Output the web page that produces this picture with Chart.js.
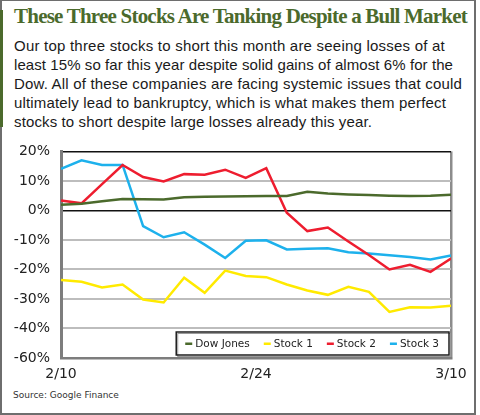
<!DOCTYPE html>
<html lang="en">
<head>
  <meta charset="UTF-8">
  <title>Stocks Tanking Despite a Bull Market</title>
  <script src="https://cdn.jsdelivr.net/npm/chart.js"></script>
  <style>
    body { margin:0; background:#fff; width:480px; height:415px; position:relative; overflow:hidden; }
    .frame { position:absolute; left:0; top:0; width:476px; height:415px; box-sizing:border-box; border:2px solid #6e6e6e; border-top-width:1px; }
    .accent { position:absolute; left:0; top:10px; width:3px; height:117px; background:#4b6a2c; }
    h1 { position:absolute; left:14px; top:6px; margin:0; font:bold 21px/21px "Liberation Serif", serif; color:#4b6a2c; white-space:nowrap; }
    .intro { position:absolute; left:14px; top:36px; margin:0; font:15px/19px "Liberation Sans", sans-serif; color:#1a1a1a; }
    .intro span { display:block; white-space:nowrap; width:max-content; }
    #chart { position:absolute; left:0; top:132px; }
    .source { position:absolute; left:13px; top:391px; font:9px/9px "DejaVu Sans", sans-serif; color:#333; }
  </style>
</head>
<body>
  <div class="frame"></div>
  <div class="accent"></div>
  <h1 id="title">These Three Stocks Are Tanking Despite a Bull Market</h1>
  <p class="intro" id="intro">
    <span>Our top three stocks to short this month are seeing losses of at</span>
    <span>least 15% so far this year despite solid gains of almost 6% for the</span>
    <span>Dow. All of these companies are facing systemic issues that could</span>
    <span>ultimately lead to bankruptcy, which is what makes them perfect</span>
    <span>stocks to short despite large losses already this year.</span>
  </p>
  <canvas id="chart" width="476" height="253"></canvas>
  <div class="source">Source: Google Finance</div>

  <script>
  // trading days shown on the chart
  const days = ['2/10','2/11','2/12','2/13','2/17','2/18','2/19','2/20','2/23','2/24',
                '2/25','2/26','2/27','3/2','3/3','3/4','3/5','3/6','3/9','3/10'];

  // % change
  const dowJones = [1.9, 2.3, 3.1, 3.9, 3.8, 3.7, 4.5, 4.6, 4.7, 4.8,
                    4.85, 4.9, 6.3, 5.7, 5.4, 5.2, 5.0, 4.9, 5.0, 5.3];
  const stock1 = [-23.6, -24.2, -26.1, -25.1, -30.2, -31.2, -22.8, -27.9, -20.4, -22.2,
                  -22.6, -25.1, -27.1, -28.6, -25.9, -27.6, -34.4, -32.8, -32.9, -32.3];
  const stock2 = [3.4, 2.4, 8.9, 15.4, 11.3, 9.8, 12.3, 12.1, 13.8, 11.0,
                  14.3, -0.8, -7.0, -5.8, -10.5, -15.1, -20.0, -18.4, -20.8, -16.3];
  const stock3 = [14.1, 17.0, 15.4, 15.4, -5.3, -9.1, -7.4, -11.6, -16.1, -10.3,
                  -10.1, -13.2, -13.0, -12.8, -14.2, -14.6, -15.2, -15.8, -16.6, -15.3];

  const seriesNames = ['Dow Jones', 'Stock 1', 'Stock 2', 'Stock 3'];
  const seriesColors = ['#4b6a2c', '#ffea00', '#ee1d2f', '#1db1ec'];

  // tick labels (bottom to top for y)
  const xTickLabels = ['2/10', '2/24', '3/10'];
  const yTickLabels = ['-60%', '-40%', '-30%', '-20%', '-10%', '0%', '10%', '20%'];

  // stretch title / text lines to the widths in the original
  function fitWidth(el, target){
    const w = el.getBoundingClientRect().width;
    el.style.letterSpacing = ((target - w) / el.textContent.length) + 'px';
  }
  fitWidth(document.getElementById('title'), 453);
  const lineWidths = [431, 439, 448, 432, 358];
  document.querySelectorAll('#intro span').forEach((s, i) => fitWidth(s, lineWidths[i]));

  // x ticks sit on the calendar, points are one per trading day
  function dayNum(s){ const [m, d] = s.split('/').map(Number); return new Date(2015, m - 1, d).getTime() / 864e5; }
  const span = dayNum(days[days.length - 1]) - dayNum(days[0]);
  const xTickPos = xTickLabels.map(l => (dayNum(l) - dayNum(days[0])) / span * (days.length - 1));

  const toPoints = arr => arr.map((v, i) => ({ x: i, y: v }));
  const allSeries = [dowJones, stock1, stock2, stock3];

  const tickFont = { family: '"DejaVu Sans", sans-serif', size: 14 };

  // legend box drawn inside the plot, bottom right
  const insideLegend = {
    id: 'insideLegend',
    afterDraw(chart){
      const ctx = chart.ctx, area = chart.chartArea;
      const gap = 14;
      ctx.save();
      ctx.font = '10.5px "DejaVu Sans", sans-serif';
      const sets = chart.data.datasets;
      let w = 9;
      sets.forEach((d, i) => { w += 10 + ctx.measureText(d.label).width + (i < sets.length - 1 ? gap : 10); });
      const h = 23, x0 = area.right - w - 2, y0 = area.bottom - h - 3;
      ctx.fillStyle = '#fff';
      ctx.fillRect(x0, y0, w, h);
      ctx.strokeStyle = '#9a9a9a';
      ctx.lineWidth = 1;
      ctx.strokeRect(x0 + 1.5, y0 + 1.5, w, h);
      ctx.strokeStyle = '#1e1e1e';
      ctx.lineWidth = 1.5;
      ctx.strokeRect(x0, y0, w, h);
      let x = x0 + 9;
      const cy = y0 + h / 2;
      ctx.textBaseline = 'middle';
      sets.forEach(d => {
        ctx.fillStyle = d.borderColor;
        ctx.fillRect(x, cy - 1, 7, 2.5);
        ctx.fillStyle = '#222';
        ctx.fillText(d.label, x + 10, cy + 0.5);
        x += 10 + ctx.measureText(d.label).width + gap;
      });
      ctx.restore();
    }
  };

  new Chart(document.getElementById('chart'), {
    type: 'line',
    data: {
      datasets: allSeries.map((s, i) => ({
        label: seriesNames[i],
        data: toPoints(s),
        borderColor: seriesColors[i],
        backgroundColor: seriesColors[i],
        borderWidth: 2.5,
        pointRadius: 0,
        tension: 0
      }))
    },
    options: {
      responsive: false,
      animation: false,
      layout: { padding: { top: 2, right: 25, left: 0, bottom: 0 } },
      plugins: { legend: { display: false }, tooltip: { enabled: false } },
      scales: {
        x: {
          type: 'linear',
          min: 0,
          max: days.length - 1,
          afterBuildTicks: s => { s.ticks = xTickPos.map(v => ({ value: v })); },
          afterFit: s => { s.height = 27; },
          ticks: {
            autoSkip: false,
            maxRotation: 0,
            padding: 8,
            color: '#222',
            font: tickFont,
            callback: (v, i) => xTickLabels[i]
          },
          grid: {
            drawTicks: false,
            color: c => c.index === xTickLabels.length - 1 ? '#8c8c8c' : 'rgba(0,0,0,0)',
            lineWidth: 2.5
          },
          border: { color: '#7d7d7d', width: 2.5 }
        },
        y: {
          min: -50,
          max: 20,
          afterFit: s => { s.width = 61; },
          ticks: {
            stepSize: 10,
            padding: 11,
            color: '#222',
            font: tickFont,
            callback: (v, i) => yTickLabels[i]
          },
          grid: {
            drawTicks: false,
            color: c => (c.tick.value === 0 || c.tick.value === 20) ? '#111' : '#bdbdbd',
            lineWidth: c => (c.tick.value === 0 || c.tick.value === 20) ? 1.5 : 2
          },
          border: { color: '#7d7d7d', width: 3 }
        }
      }
    },
    plugins: [insideLegend]
  });
  </script>
</body>
</html>
